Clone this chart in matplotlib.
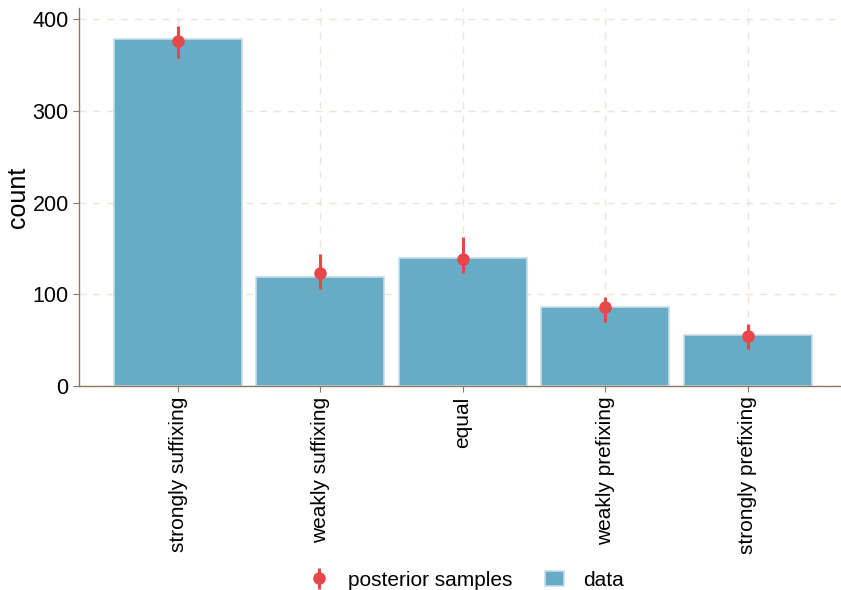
import matplotlib
matplotlib.use("Agg")
import matplotlib.pyplot as plt
import numpy as np

plt.rcParams['font.family'] = ['Liberation Sans', 'DejaVu Sans']

categories = ["strongly suffixing", "weakly suffixing", "equal", "weakly prefixing", "strongly prefixing"]
data_counts = [378, 119, 140, 86, 56]
post_mean = [376, 123, 138, 86, 54.5]
post_low = [357, 106, 123, 70, 40]
post_high = [392, 144, 162, 97, 68]

bar_color = "#67ACC4"
red = "#E8474A"
spine_color = "#8B7762"
grid_color = "#EFE3D6"

fig = plt.figure(figsize=(8.41, 5.90), dpi=100)
ax = fig.add_axes([0.094, 0.3458, 0.905, 0.6406])

x = np.arange(len(categories))
bars = ax.bar(x, data_counts, width=0.9, color=bar_color, edgecolor="#C6DDE8", linewidth=1.2, label="data", zorder=2)
mean = np.array(post_mean)
yerr = np.array([mean - np.array(post_low), np.array(post_high) - mean])
eb = ax.errorbar(x, mean, yerr=yerr, fmt='o', color=red, ecolor=red, elinewidth=2.2, markersize=8, capsize=0, label="posterior samples", zorder=3)

ax.set_xlim(-0.695, 4.65)
ax.set_ylim(0, 412)
ax.set_yticks([0, 100, 200, 300, 400])
ax.set_xticks(x)
ax.set_xticklabels(categories, rotation=90, fontsize=15)
ax.tick_params(axis='y', labelsize=15.5, color=spine_color, length=4)
ax.tick_params(axis='x', color=spine_color, length=4)
ax.set_ylabel("count", fontsize=18, labelpad=2)
ax.grid(True, linestyle=(0, (5, 5)), color=grid_color, linewidth=1, zorder=0)
ax.set_axisbelow(True)
for s in ['top', 'right']:
    ax.spines[s].set_visible(False)
for s in ['left', 'bottom']:
    ax.spines[s].set_color(spine_color)
    ax.spines[s].set_linewidth(1.0)

fig.legend([eb, bars], ["posterior samples", "data"], loc='lower center', bbox_to_anchor=(0.555, -0.031), ncol=2,
           frameon=False, fontsize=15, handlelength=0.9, columnspacing=1.6, handletextpad=0.9)

fig.savefig("out.png", dpi=100)
